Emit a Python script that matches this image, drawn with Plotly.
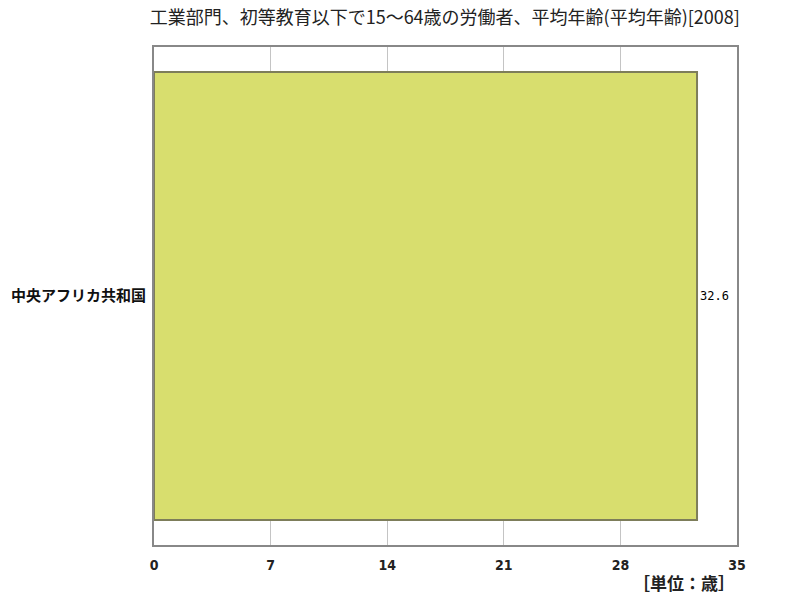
import plotly.graph_objects as go

# Data
countries = ["中央アフリカ共和国"]
values = [32.6]
tick_vals = [0, 7, 14, 21, 28, 35]

title_text = "工業部門、初等教育以下で15～64歳の労働者、平均年齢(平均年齢)[2008]"
unit_text = "［単位：歳］"

font_jp = "Noto Sans CJK JP"

fig = go.Figure()
fig.add_trace(go.Bar(
    x=values, y=countries, orientation="h",
    width=0.9,
    marker=dict(color="#d8de6e", line=dict(color="#7d7d5a", width=2)),
    text=[f"{v:.1f}" for v in values],
    textposition="outside",
    textfont=dict(family="DejaVu Sans Mono, monospace", size=12, color="#000000"),
    cliponaxis=False,
))

fig.update_layout(
    width=800, height=600,
    margin=dict(l=154, r=63, t=47, b=55, autoexpand=False),
    paper_bgcolor="white", plot_bgcolor="white",
    showlegend=False,
    title=dict(text=title_text, x=0.556, xanchor="center", y=0.97, yanchor="middle",
               font=dict(family=font_jp, size=18, color="#222222")),
    xaxis=dict(range=[0, 35], tickvals=tick_vals, showgrid=True, gridcolor="#c4c4c4",
               gridwidth=1, zeroline=False, showline=True, linecolor="#888888", linewidth=2,
               mirror=True, ticks="", ticklabelstandoff=6, automargin=False,
               tickfont=dict(family="Liberation Sans Narrow, DejaVu Sans Condensed, sans-serif",
                             size=14, color="#222222", weight="bold")),
    yaxis=dict(showgrid=False, zeroline=False, showline=True, linecolor="#888888", linewidth=2,
               mirror=True, ticks="", range=[-0.5, 0.5], ticklabelstandoff=3,
               automargin=False,
               tickfont=dict(family=font_jp, size=15, color="#111111", weight="bold")),
    annotations=[dict(text=unit_text, x=1.0, xref="paper", xanchor="right",
                      y=-0.0763, yref="paper", yanchor="middle", showarrow=False,
                      font=dict(family=font_jp, size=17, color="#222222", weight="bold"))],
)

# drop the default 8px page margin so the figure fills the window, hide the modebar
fig.write_html("out.html", config={"displayModeBar": False},
               post_script="document.body.style.margin='0';")
